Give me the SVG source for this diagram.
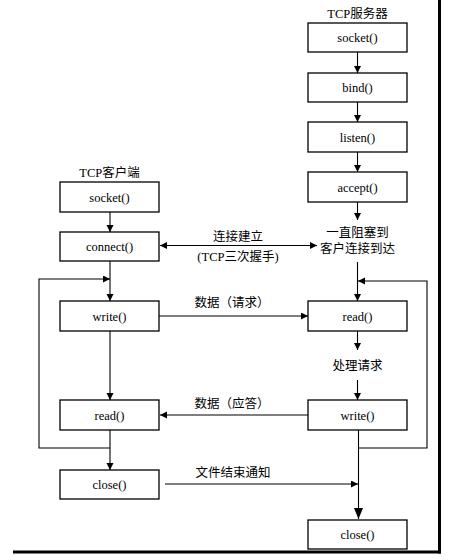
<svg xmlns="http://www.w3.org/2000/svg" width="462" height="560" viewBox="0 0 462 560">
<style>
.box{fill:#fff;stroke:#000;stroke-width:1.3}
.t{font-family:"Liberation Serif","Noto Sans CJK SC",serif;font-size:12.5px;fill:#000;text-anchor:middle}
.c{fill:none;stroke:#000;stroke-width:1.1}
.frame{stroke:#000;stroke-width:3;fill:none}
</style>
<defs>
<marker id="ah" markerUnits="userSpaceOnUse" markerWidth="8" markerHeight="8" refX="7" refY="3.5" orient="auto-start-reverse">
<path d="M0,0 L7,3.5 L0,7 z" fill="#000"/>
</marker>
<marker id="ahb" markerUnits="userSpaceOnUse" markerWidth="12" markerHeight="12" refX="11" refY="4.5" orient="auto">
<path d="M0,0 L11,4.5 L0,9 z" fill="#000"/>
</marker>
</defs>
<rect width="462" height="560" fill="#fff"/>
<g id="frame">
<line class="frame" x1="439.5" y1="0" x2="439.5" y2="553.5"/>
<line class="frame" x1="13" y1="552" x2="441" y2="552"/>
</g>
<g id="connectors">
<line class="c" x1="357.5" y1="52" x2="357.5" y2="73" marker-end="url(#ah)"/>
<line class="c" x1="357.5" y1="102" x2="357.5" y2="122" marker-end="url(#ah)"/>
<line class="c" x1="357.5" y1="152" x2="357.5" y2="172" marker-end="url(#ah)"/>
<line class="c" x1="357.5" y1="202" x2="357.5" y2="220" marker-end="url(#ah)"/>
<line class="c" x1="357.5" y1="262" x2="357.5" y2="301" marker-end="url(#ah)"/>
<line class="c" x1="357.5" y1="331" x2="357.5" y2="350" marker-end="url(#ah)"/>
<line class="c" x1="357.5" y1="380" x2="357.5" y2="400" marker-end="url(#ah)"/>
<line class="c" x1="358.5" y1="430" x2="358.5" y2="519" marker-end="url(#ahb)"/>
<polyline class="c" points="358.5,448 427,448 427,281 358,281" marker-end="url(#ah)"/>
<line class="c" x1="110" y1="212" x2="110" y2="232" marker-end="url(#ah)"/>
<line class="c" x1="110" y1="261" x2="110" y2="301" marker-end="url(#ah)"/>
<line class="c" x1="110" y1="331" x2="110" y2="400" marker-end="url(#ah)"/>
<line class="c" x1="110" y1="430" x2="110" y2="470" marker-end="url(#ah)"/>
<polyline class="c" points="110,448 39,448 39,279 110,279" marker-end="url(#ah)"/>
<line class="c" x1="160" y1="245.5" x2="317" y2="245.5" marker-start="url(#ah)" marker-end="url(#ah)"/>
<line class="c" x1="159" y1="316" x2="308" y2="316" marker-end="url(#ah)"/>
<line class="c" x1="308" y1="415" x2="160" y2="415" marker-end="url(#ah)"/>
<line class="c" x1="165" y1="484" x2="358" y2="484" marker-end="url(#ah)"/>
<text class="t" x="238" y="240.5">连接建立</text>
<text class="t" x="238" y="260.5">(TCP三次握手)</text>
<text class="t" x="232" y="307">数据（请求）</text>
<text class="t" x="232" y="408">数据（应答）</text>
<text class="t" x="233" y="477">文件结束通知</text>
</g>
<g id="srv_title"><text class="t" x="357.5" y="17.5">TCP服务器</text></g>
<g id="srv_socket"><rect class="box" x="308" y="23" width="99" height="29"/><text class="t" x="357.5" y="42">socket()</text></g>
<g id="srv_bind"><rect class="box" x="308" y="73" width="99" height="29"/><text class="t" x="357.5" y="92">bind()</text></g>
<g id="srv_listen"><rect class="box" x="308" y="122" width="99" height="30"/><text class="t" x="357.5" y="141.5">listen()</text></g>
<g id="srv_accept"><rect class="box" x="308" y="172" width="99" height="30"/><text class="t" x="357.5" y="191.5">accept()</text></g>
<g id="srv_wait"><text class="t" x="357.5" y="236.5">一直阻塞到</text><text class="t" x="357.5" y="252.5">客户连接到达</text></g>
<g id="srv_read"><rect class="box" x="308" y="301" width="99" height="30"/><text class="t" x="357.5" y="320.5">read()</text></g>
<g id="srv_process"><text class="t" x="357.5" y="369.5">处理请求</text></g>
<g id="srv_write"><rect class="box" x="308" y="400" width="99" height="30"/><text class="t" x="357.5" y="419.5">write()</text></g>
<g id="srv_close"><rect class="box" x="308" y="520" width="99" height="29"/><text class="t" x="357.5" y="539">close()</text></g>
<g id="cli_title"><text class="t" x="109.5" y="176.5">TCP客户端</text></g>
<g id="cli_socket"><rect class="box" x="60" y="182" width="99" height="30"/><text class="t" x="109.5" y="201.5">socket()</text></g>
<g id="cli_connect"><rect class="box" x="60" y="232" width="99" height="29"/><text class="t" x="109.5" y="251">connect()</text></g>
<g id="cli_write"><rect class="box" x="60" y="301" width="99" height="30"/><text class="t" x="109.5" y="320.5">write()</text></g>
<g id="cli_read"><rect class="box" x="60" y="400" width="99" height="30"/><text class="t" x="109.5" y="419.5">read()</text></g>
<g id="cli_close"><rect class="box" x="60" y="470" width="99" height="29"/><text class="t" x="109.5" y="489">close()</text></g>
</svg>
